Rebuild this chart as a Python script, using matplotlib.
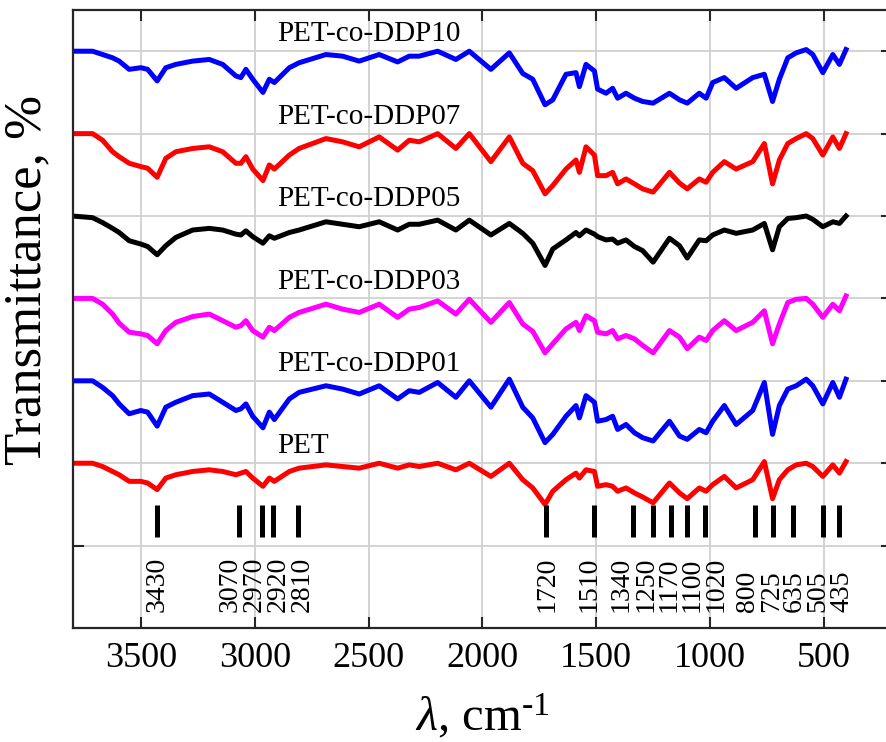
import numpy as np
import matplotlib
matplotlib.use('Agg')
import matplotlib.pyplot as plt

plt.rcParams['font.family'] = ['Liberation Serif', 'DejaVu Serif']
plt.rcParams['mathtext.fontset'] = 'custom'
plt.rcParams['mathtext.rm'] = 'Liberation Serif'
plt.rcParams['mathtext.it'] = 'Liberation Serif:italic'

#  Wavenumber grid (cm-1)
wavenumber = [3802, 3714, 3670, 3626, 3597, 3553, 3502, 3472, 3430, 3392,
              3348, 3274, 3201, 3142, 3084, 3062, 3040, 3010, 2965, 2937,
              2915, 2849, 2806, 2688, 2615, 2542, 2454, 2373, 2322, 2278,
              2197, 2117, 2058,
              1963, 1882, 1823, 1779, 1725, 1691, 1633, 1589, 1574, 1545,
              1508, 1494, 1457, 1428, 1406, 1369, 1332, 1296, 1250, 1178,
              1134, 1100, 1047, 1017, 988, 937, 885, 812, 761, 725,
              695, 658, 621, 577, 548, 504, 460, 431, 402]

#  Absorption depth below each baseline (grid units)
ddp10 = [0, 0, 0.04, 0.08, 0.12, 0.22, 0.20, 0.22, 0.36, 0.20,
         0.16, 0.12, 0.10, 0.16, 0.30, 0.32, 0.22, 0.34, 0.50, 0.34,
         0.38, 0.20, 0.14, 0.04, 0.06, 0.12, 0.04, 0.13, 0.06, 0.06,
         0.0, 0.10, 0.0,
         0.22, 0.02, 0.27, 0.34, 0.65, 0.59, 0.28, 0.26, 0.43, 0.16,
         0.24, 0.46, 0.51, 0.45, 0.57, 0.51, 0.57, 0.61, 0.63, 0.51,
         0.59, 0.63, 0.51, 0.57, 0.38, 0.32, 0.45, 0.32, 0.28, 0.61,
         0.34, 0.08, 0.02, -0.02, 0.04, 0.26, 0.04, 0.16, -0.02]
ddp07 = [0, 0, 0.08, 0.22, 0.28, 0.36, 0.40, 0.42, 0.53, 0.30,
         0.22, 0.18, 0.16, 0.22, 0.36, 0.36, 0.28, 0.43, 0.57, 0.38,
         0.43, 0.26, 0.18, 0.06, 0.10, 0.16, 0.04, 0.20, 0.08, 0.10,
         0, 0.18, 0,
         0.34, 0.04, 0.36, 0.45, 0.73, 0.63, 0.43, 0.32, 0.47, 0.16,
         0.26, 0.51, 0.51, 0.47, 0.61, 0.55, 0.61, 0.67, 0.71, 0.47,
         0.60, 0.67, 0.55, 0.59, 0.47, 0.34, 0.43, 0.34, 0.12, 0.61,
         0.32, 0.12, 0.06, 0, 0.06, 0.26, 0.04, 0.18, 0]
ddp05 = [0, 0.02, 0.08, 0.15, 0.20, 0.30, 0.34, 0.37, 0.47, 0.36,
         0.26, 0.17, 0.15, 0.17, 0.22, 0.23, 0.18, 0.25, 0.33, 0.24,
         0.27, 0.20, 0.17, 0.07, 0.10, 0.13, 0.07, 0.17, 0.10, 0.10,
         0.05, 0.17, 0.05,
         0.23, 0.09, 0.21, 0.33, 0.60, 0.40, 0.29, 0.20, 0.24, 0.17,
         0.22, 0.25, 0.29, 0.28, 0.33, 0.29, 0.37, 0.42, 0.56, 0.27,
         0.36, 0.51, 0.29, 0.30, 0.23, 0.17, 0.21, 0.17, 0.09, 0.41,
         0.13, 0.03, 0.02, 0, 0.04, 0.13, 0.07, 0.09, 0]
ddp03 = [0, 0, 0.07, 0.19, 0.30, 0.41, 0.43, 0.45, 0.55, 0.39,
         0.29, 0.22, 0.19, 0.27, 0.35, 0.33, 0.27, 0.39, 0.47, 0.35,
         0.39, 0.23, 0.17, 0.07, 0.13, 0.17, 0.07, 0.23, 0.13, 0.11,
         0.03, 0.19, 0.01,
         0.29, 0.05, 0.31, 0.40, 0.66, 0.55, 0.37, 0.29, 0.39, 0.21,
         0.27, 0.41, 0.43, 0.39, 0.49, 0.45, 0.49, 0.57, 0.66, 0.39,
         0.47, 0.61, 0.47, 0.51, 0.39, 0.27, 0.39, 0.29, 0.15, 0.55,
         0.31, 0.05, 0.01, 0, 0.07, 0.23, 0.07, 0.15, -0.03]
ddp01 = [0, 0, 0.08, 0.18, 0.28, 0.40, 0.36, 0.38, 0.55, 0.32,
         0.26, 0.18, 0.16, 0.26, 0.36, 0.34, 0.28, 0.43, 0.57, 0.38,
         0.47, 0.22, 0.14, 0.06, 0.10, 0.16, 0.06, 0.22, 0.12, 0.14,
         0.02, 0.20, 0,
         0.32, -0.02, 0.32, 0.45, 0.75, 0.65, 0.43, 0.30, 0.45, 0.18,
         0.26, 0.49, 0.47, 0.43, 0.59, 0.53, 0.63, 0.69, 0.73, 0.49,
         0.67, 0.71, 0.59, 0.63, 0.49, 0.30, 0.53, 0.36, 0.02, 0.65,
         0.30, 0.10, 0.06, -0.02, 0.06, 0.28, 0.02, 0.20, -0.02]
pet = [0, 0, 0.04, 0.10, 0.14, 0.22, 0.22, 0.24, 0.32, 0.18,
       0.14, 0.10, 0.08, 0.10, 0.14, 0.12, 0.10, 0.18, 0.28, 0.18,
       0.22, 0.10, 0.06, 0.02, 0.04, 0.06, 0, 0.06, 0.02, 0.04,
       0, 0.08, 0,
       0.16, 0, 0.20, 0.30, 0.50, 0.34, 0.20, 0.12, 0.18, 0.08,
       0.10, 0.28, 0.26, 0.28, 0.34, 0.30, 0.36, 0.41, 0.48, 0.24,
       0.36, 0.43, 0.30, 0.34, 0.26, 0.16, 0.30, 0.20, -0.02, 0.43,
       0.20, 0.08, 0.02, 0, 0.04, 0.16, 0.02, 0.12, -0.02]

samples = ['PET', 'PET-co-DDP01', 'PET-co-DDP03', 'PET-co-DDP05',
           'PET-co-DDP07', 'PET-co-DDP10']
offsets = [1, 2, 3, 4, 5, 6]
colors = ['#ff0000', '#0000ff', '#ff00ff', '#000000', '#ff0000', '#0000ff']
depths = [pet, ddp01, ddp03, ddp05, ddp07, ddp10]

#  Band positions and where their labels sit
peaks = [3430, 3070, 2970, 2920, 2810, 1720, 1510, 1340, 1250, 1170,
         1100, 1020, 800, 725, 635, 505, 435]
peak_label_x = [3430, 3110, 3003, 2897, 2792, 1715, 1530, 1389, 1279, 1178,
                1077, 972, 835, 730, 629, 528, 418]

fig = plt.figure(figsize=(8.87, 7.42), dpi=100)
ax = fig.add_axes([0.0823, 0.1536, 0.9233, 0.8329])

wn = np.array(wavenumber)
for name, off, col, d in zip(samples, offsets, colors, depths):
    ax.plot(wn, off - np.array(d), color=col, lw=3.6, solid_joinstyle='round')
    ax.text(2902, off + 0.12, name, fontsize=21, va='baseline', ha='left')

ax.vlines(peaks, 0.1, 0.49, color='black', lw=3.6)
for p, lx in zip(peaks, peak_label_x):
    ax.text(lx, -0.81, str(p), rotation=90, fontsize=20,
            ha='center', va='bottom')

ax.set_xlim(3800, 200)
ax.set_ylim(-1, 6.5)
ax.set_xticks([3500, 3000, 2500, 2000, 1500, 1000, 500])
ax.set_yticks([0, 1, 2, 3, 4, 5, 6])
ax.set_yticklabels([])
ax.grid(True, color='#d0d0d0', lw=1.3)
ax.set_axisbelow(True)
ax.tick_params(direction='in', length=8, width=1.5, top=True, right=True,
               labelsize=26, pad=10, color='#262626')
for s in ax.spines.values():
    s.set_linewidth(1.6)
    s.set_color('#262626')

ax.set_ylabel('Transmittance, %', fontsize=38)
ax.yaxis.set_label_coords(-0.026, 0.563)
ax.set_xlabel(r'$\lambda$, cm$^{\text{-}1}$', fontsize=35, labelpad=12)

fig.savefig('out.png', dpi=100)
